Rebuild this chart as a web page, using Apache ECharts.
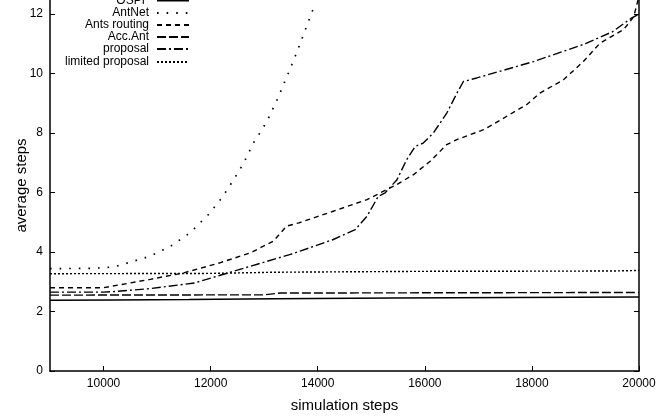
<!DOCTYPE html>
<html><head><meta charset="utf-8">
<script src="https://cdn.jsdelivr.net/npm/echarts@6/dist/echarts.min.js"></script>
<style>html,body{margin:0;padding:0;background:#fff}#c{width:666px;height:418px}</style>
</head><body><div id="c"></div>
<script>
const xTicks = [10000, 12000, 14000, 16000, 18000, 20000];
const yTicks = [0, 2, 4, 6, 8, 10, 12];

const ospfX = [9000, 10200, 11600, 13200, 15400, 18800, 20000];
const ospfY = [2.38, 2.39, 2.40, 2.43, 2.45, 2.48, 2.49];

const antnetX = [9000, 9800, 10200, 10500, 10870, 11250, 11620, 11960, 12210, 12430, 12620, 12800, 12960, 13080, 13240, 13470, 13620, 13760, 13900, 13950];
const antnetY = [3.44, 3.45, 3.50, 3.66, 3.86, 4.19, 4.65, 5.26, 5.82, 6.43, 7.00, 7.67, 8.11, 8.50, 9.11, 10.09, 10.76, 11.43, 12.10, 12.30];

const antsX = [9000, 10000, 10870, 11500, 12180, 12740, 13170, 13420, 13650, 14290, 14920, 15480, 15790, 16100, 16410, 16600, 17100, 17900, 18150, 18590, 18960, 19273, 19708, 19900, 20000];
const antsY = [2.80, 2.80, 3.08, 3.30, 3.64, 3.97, 4.36, 4.87, 4.98, 5.37, 5.76, 6.27, 6.60, 7.05, 7.61, 7.78, 8.11, 8.95, 9.34, 9.79, 10.40, 11.02, 11.47, 11.90, 12.60];

const accX = [9000, 13000, 13300, 20000];
const accY = [2.55, 2.56, 2.62, 2.64];

const propX = [9000, 10000, 10200, 10870, 11700, 12740, 13490, 13670, 14290, 14700, 14920, 15130, 15260, 15480, 15660, 15820, 15970, 16160, 16410, 16600, 16720, 16970, 18030, 19000, 19500, 19850, 20000];
const propY = [2.65, 2.65, 2.67, 2.77, 2.96, 3.52, 3.92, 4.03, 4.42, 4.75, 5.20, 5.87, 5.99, 6.43, 7.10, 7.55, 7.66, 8.00, 8.67, 9.34, 9.73, 9.85, 10.40, 11.00, 11.40, 11.85, 12.00];

const limX = [9000, 12000, 13200, 16000, 19500, 20000];
const limY = [3.27, 3.28, 3.32, 3.35, 3.36, 3.38];

const names = ['OSPF', 'AntNet', 'Ants routing', 'Acc.Ant', 'proposal', 'limited proposal'];
const legendY = [1.5, 14, 26, 38, 50, 63];

const zip = (xs, ys) => xs.map((x, i) => [x, ys[i]]);
const FONT = 'Liberation Sans, Arial, sans-serif';

const styles = [
  {type: 'solid', width: 1.5},
  {type: [1.6, 8], width: 1.7},
  {type: [5, 4], width: 1.4},
  {type: [9, 3], width: 1.4},
  {type: [9, 3, 2, 3], width: 1.4},
  {type: [2, 2], width: 1.4}
];
const datas = [zip(ospfX, ospfY), zip(antnetX, antnetY), zip(antsX, antsY), zip(accX, accY), zip(propX, propY), zip(limX, limY)];

const series = names.map((n, i) => ({
  name: n, type: 'line', symbol: 'none', data: datas[i],
  lineStyle: {color: '#000', width: styles[i].width, type: styles[i].type},
  itemStyle: {color: '#000'}, animation: false, clip: true
}));

const legends = names.map((n, i) => ({
  data: [n], orient: 'vertical', align: 'right', right: 476, top: legendY[i] - 7,
  padding: 0, itemWidth: 32, itemHeight: 14, selectedMode: false,
  itemStyle: {color: 'rgba(0,0,0,0)', borderColor: 'rgba(0,0,0,0)', borderWidth: 0, opacity: 0},
  textStyle: {fontFamily: FONT, fontSize: 12, color: '#000', padding: [0, 3, 0, 0]}
}));

const chart = echarts.init(document.getElementById('c'));
chart.setOption({
  backgroundColor: '#fff',
  animation: false,
  legend: legends,
  grid: {left: 50, right: 27, top: 0, bottom: 46, containLabel: false},
  xAxis: {
    type: 'value', min: 9000, max: 20000, splitNumber: 5,
    name: 'simulation steps', nameLocation: 'middle', nameGap: 27, nameMoveOverlap: false,
    nameTextStyle: {fontFamily: FONT, fontSize: 15, color: '#000'},
    axisLine: {show: true, lineStyle: {color: '#000', width: 1.5}},
    axisTick: {show: true, inside: true, length: 5, lineStyle: {color: '#000'}, customValues: xTicks},
    axisLabel: {fontFamily: FONT, fontSize: 12, color: '#000', margin: 7, customValues: xTicks, formatter: v => String(v)},
    splitLine: {show: false}
  },
  yAxis: [{
    type: 'value', min: 0, max: 12.47,
    name: 'average steps', nameLocation: 'middle', nameGap: 21, nameRotate: 90, nameMoveOverlap: false,
    nameTextStyle: {fontFamily: FONT, fontSize: 15, color: '#000'},
    axisLine: {show: true, lineStyle: {color: '#000', width: 1.5}},
    axisTick: {show: true, inside: true, length: 5, lineStyle: {color: '#000'}, customValues: yTicks},
    axisLabel: {fontFamily: FONT, fontSize: 12, color: '#000', margin: 7, customValues: yTicks, formatter: v => String(v)},
    splitLine: {show: false}
  }, {
    type: 'value', min: 0, max: 12.47, position: 'right',
    axisLine: {show: true, lineStyle: {color: '#000', width: 1.5}},
    axisTick: {show: true, inside: true, length: 5, lineStyle: {color: '#000'}, customValues: yTicks},
    axisLabel: {show: false},
    splitLine: {show: false}
  }],
  series: series
});
</script></body></html>
